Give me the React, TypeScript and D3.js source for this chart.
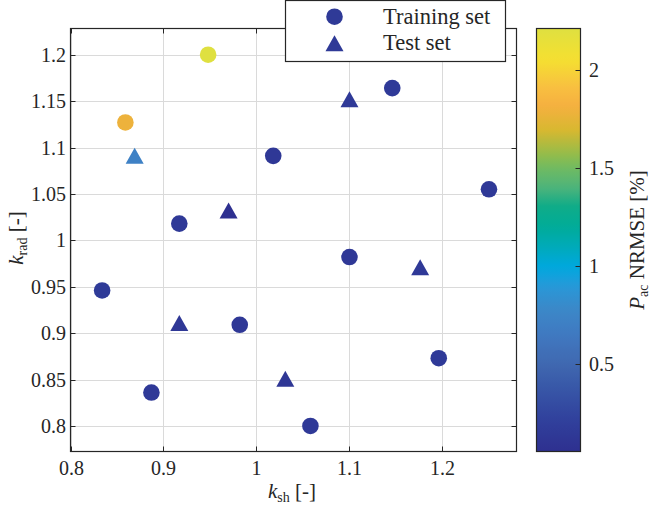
import React, { useEffect, useRef } from 'react'
import * as d3 from 'd3'

// k_sh / k_rad pairs and the NRMSE [%] of each point
const trainKsh = [0.948, 0.859, 0.917, 1.018, 1.146, 1.25, 1.1, 1.196, 1.058, 0.834, 0.887, 0.982]
const trainKrad = [1.2, 1.127, 1.018, 1.091, 1.164, 1.055, 0.982, 0.873, 0.8, 0.946, 0.836, 0.909]
const trainErr = [2.21, 1.78, 0.15, 0.14, 0.16, 0.15, 0.14, 0.16, 0.15, 0.17, 0.15, 0.14]

const testKsh = [0.869, 0.97, 1.1, 0.917, 1.031, 1.176]
const testKrad = [1.091, 1.032, 1.152, 0.911, 0.851, 0.971]
const testErr = [0.72, 0.056, 0.15, 0.14, 0.13, 0.15]

const xTicks = [0.8, 0.9, 1, 1.1, 1.2]
const yTicks = [0.8, 0.85, 0.9, 0.95, 1, 1.05, 1.1, 1.15, 1.2]
const cTicks = [0.5, 1, 1.5, 2]
const legendLabels = ['Training set', 'Test set']

// parula-ish, as it looks in the picture (position 0..1, colour)
const cmapPos = [0, 0.075, 0.154, 0.205, 0.272, 0.335, 0.39, 0.434, 0.485, 0.532, 0.58, 0.626, 0.666, 0.706, 0.76, 0.816, 0.863, 0.926, 1]
const cmapCol = ['#2e3090', '#30409c', '#3858a8', '#4068b0', '#4078c0', '#3c88c8', '#2898d8', '#00a8e0', '#00aab8', '#00ac98',
  '#10ac88', '#50b47a', '#6cba64', '#98bc48', '#d8b830', '#f5b040', '#f8c040', '#f5e030', '#dfe040']

const FONT = "'Liberation Serif', 'Times New Roman', serif"
const left = 70.5, right = 516.5, top = 28.5, bottom = 451.5
const cbLeft = 536.5, cbRight = 580.5

const triPath = 'M0,-8L9,8L-9,8Z'

const App = () => {
  const ref = useRef(null)

  useEffect(() => {
    const svg = d3.select(ref.current)
    svg.selectAll('*').remove()

    const x = d3.scaleLinear().domain([0.8, 1.2796]).range([left, right])
    const y = d3.scaleLinear().domain([0.7725, 1.2282]).range([bottom, top])
    const cMin = d3.min([...trainErr, ...testErr])
    const cMax = d3.max([...trainErr, ...testErr])
    const color = d3.scaleLinear()
      .domain(cmapPos.map(p => cMin + (cMax - cMin) * p))
      .range(cmapCol)
      .interpolate(d3.interpolateRgb)
    const cy = d3.scaleLinear().domain([cMin, cMax]).range([bottom, top])

    // grid
    const g = svg.append('g')
    g.selectAll('.gx').data(xTicks).join('line')
      .attr('x1', d => Math.round(x(d)) + 0.5).attr('x2', d => Math.round(x(d)) + 0.5)
      .attr('y1', top).attr('y2', bottom)
      .attr('stroke', '#dadada').attr('stroke-width', 1)
    g.selectAll('.gy').data(yTicks).join('line')
      .attr('y1', d => Math.round(y(d)) + 0.5).attr('y2', d => Math.round(y(d)) + 0.5)
      .attr('x1', left).attr('x2', right)
      .attr('stroke', '#dadada').attr('stroke-width', 1)

    // ticks inward on all sides
    const tl = 5
    xTicks.forEach(t => {
      const px = Math.round(x(t)) + 0.5
      g.append('line').attr('x1', px).attr('x2', px).attr('y1', bottom).attr('y2', bottom - tl).attr('stroke', '#262626')
      g.append('line').attr('x1', px).attr('x2', px).attr('y1', top).attr('y2', top + tl).attr('stroke', '#262626')
      g.append('text').attr('x', px).attr('y', 475).attr('text-anchor', 'middle')
        .attr('font-family', FONT).attr('font-size', 20).attr('fill', '#262626').text(d3.format('~g')(t))
    })
    yTicks.forEach(t => {
      const py = Math.round(y(t)) + 0.5
      g.append('line').attr('x1', left).attr('x2', left + tl).attr('y1', py).attr('y2', py).attr('stroke', '#262626')
      g.append('line').attr('x1', right).attr('x2', right - tl).attr('y1', py).attr('y2', py).attr('stroke', '#262626')
      g.append('text').attr('x', 66).attr('y', py + 6.5).attr('text-anchor', 'end')
        .attr('font-family', FONT).attr('font-size', 20).attr('fill', '#262626').text(d3.format('~g')(t))
    })

    // box
    g.append('rect').attr('x', left).attr('y', top).attr('width', right - left).attr('height', bottom - top)
      .attr('fill', 'none').attr('stroke', '#262626').attr('stroke-width', 1.2)

    // points
    const pts = svg.append('g')
    pts.selectAll('circle').data(trainKsh).join('circle')
      .attr('cx', d => x(d)).attr('cy', (d, i) => y(trainKrad[i])).attr('r', 8.3)
      .attr('fill', (d, i) => color(trainErr[i]))
    pts.selectAll('path').data(testKsh).join('path')
      .attr('d', triPath)
      .attr('transform', (d, i) => `translate(${x(d)},${y(testKrad[i])})`)
      .attr('fill', (d, i) => color(testErr[i]))

    // axis labels
    const xl = svg.append('text').attr('x', 292).attr('y', 498).attr('text-anchor', 'middle')
      .attr('font-family', FONT).attr('font-size', 21).attr('fill', '#262626')
    xl.append('tspan').attr('font-style', 'italic').text('k')
    xl.append('tspan').attr('font-size', 14).attr('dy', 4).text('sh')
    xl.append('tspan').attr('dy', -4).text(' [-]')

    const yl = svg.append('text').attr('transform', 'translate(23,238) rotate(-90)').attr('text-anchor', 'middle')
      .attr('font-family', FONT).attr('font-size', 21).attr('fill', '#262626')
    yl.append('tspan').attr('font-style', 'italic').text('k')
    yl.append('tspan').attr('font-size', 14).attr('dy', 4).text('rad')
    yl.append('tspan').attr('dy', -4).text(' [-]')

    // colorbar
    const defs = svg.append('defs')
    const grad = defs.append('linearGradient').attr('id', 'cbar')
      .attr('x1', 0).attr('x2', 0).attr('y1', 1).attr('y2', 0)
    d3.range(0, 1.0001, 0.02).forEach(f => {
      grad.append('stop').attr('offset', f).attr('stop-color', color(cMin + (cMax - cMin) * f))
    })
    svg.append('rect').attr('x', cbLeft).attr('y', top).attr('width', cbRight - cbLeft).attr('height', bottom - top)
      .attr('fill', 'url(#cbar)').attr('stroke', '#262626').attr('stroke-width', 1.2)
    cTicks.forEach(t => {
      const py = Math.round(cy(t)) + 0.5
      svg.append('line').attr('x1', cbRight).attr('x2', cbRight - 5).attr('y1', py).attr('y2', py).attr('stroke', '#262626')
      svg.append('text').attr('x', 589).attr('y', py + 6.5)
        .attr('font-family', FONT).attr('font-size', 20).attr('fill', '#262626').text(d3.format('~g')(t))
    })
    const cl = svg.append('text').attr('transform', 'translate(644,240) rotate(-90)').attr('text-anchor', 'middle')
      .attr('font-family', FONT).attr('font-size', 21).attr('fill', '#262626')
    cl.append('tspan').attr('font-style', 'italic').text('P')
    cl.append('tspan').attr('font-size', 14).attr('dy', 4).text('ac')
    cl.append('tspan').attr('dy', -4).text(' NRMSE [%]')

    // legend
    const lg = svg.append('g')
    lg.append('rect').attr('x', 285.5).attr('y', 0.5).attr('width', 220).attr('height', 61)
      .attr('fill', 'white').attr('stroke', '#262626').attr('stroke-width', 1.2)
    const legendY = [16.7, 43.3]
    lg.append('circle').attr('cx', 334.5).attr('cy', legendY[0]).attr('r', 8.3).attr('fill', color(cMin + 0.1))
    lg.append('path').attr('d', triPath).attr('transform', `translate(334.5,${legendY[1]})`).attr('fill', color(cMin + 0.1))
    legendLabels.forEach((lab, i) => {
      lg.append('text').attr('x', 383).attr('y', legendY[i] + 7)
        .attr('font-family', FONT).attr('font-size', 22.5).attr('fill', '#262626').text(lab)
    })
  }, [])

  return (
    <svg ref={ref} width={650} height={506}
      style={{ position: 'absolute', left: 0, top: 0, background: 'white' }} />
  )
}

export default App
